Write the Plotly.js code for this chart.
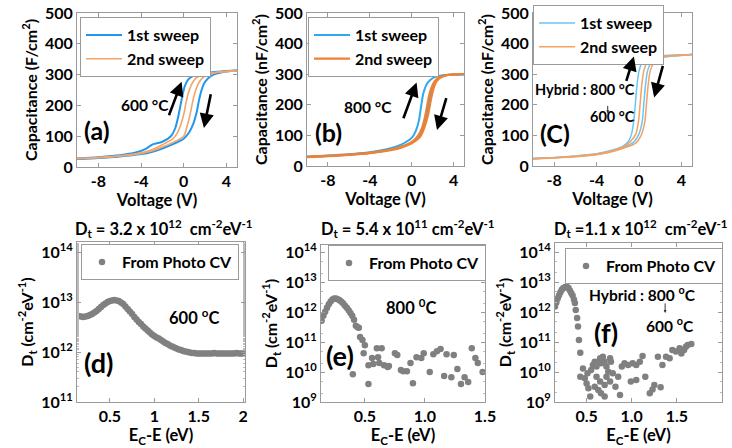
<!DOCTYPE html>
<html><head><meta charset="utf-8">
<script src="https://cdn.plot.ly/plotly-3.0.1.min.js"></script>
<style>html,body{margin:0;padding:0;background:#fff}#chart{width:732px;height:448px}</style>
</head><body><div id="chart"></div>
<script>
// ---------- DATA ----------
// (a) 600 C C-V
const aBlueUpV = [-10,-8,-6,-4.5,-3.5,-3,-2,-1.2,-0.8,-0.5,-0.3,-0.1,0.1,0.4,0.8,1.5,2.5,3.5,5];
const aBlueUpC = [28,32,38,47,60,72,82,100,125,165,200,235,262,283,294,302,307,310,313];
const aOrg1V = [-10,-8,-6,-4,-3,-2,-1,-0.6,-0.3,0,0.2,0.4,0.7,1.1,1.6,2.5,3.5,5];
const aOrg1C = [28,31,36,46,56,72,92,110,135,170,205,235,265,287,298,305,309,313];
const aOrg2V = [-10,-8,-6,-4,-3,-2,-1,0,0.3,0.6,0.8,1.0,1.3,1.7,2.2,3,4,5];
const aOrg2C = [27,30,35,44,52,65,80,100,130,170,205,235,265,287,298,306,310,313];
const aBlueDnV = [-10,-8,-6,-4,-3,-2,-1,0,0.5,0.9,1.2,1.4,1.6,1.9,2.3,2.8,3.5,5];
const aBlueDnC = [26,29,34,42,49,60,74,92,112,140,175,210,240,270,288,300,307,313];
// (b) 800 C C-V
const bBlueUpV = [-10,-8,-6,-4,-2,-1,0,0.4,0.7,0.9,1.1,1.4,1.8,2.3,3,4,5];
const bBlueUpC = [30,34,38,45,58,70,92,115,150,195,235,265,282,292,297,299,300];
const bBlueDnV = [-10,-8,-6,-4,-2,-1,0,0.7,1.1,1.4,1.6,1.8,2.1,2.5,3.1,4,5];
const bBlueDnC = [30,33,37,43,54,62,77,97,125,165,200,235,265,285,295,299,300];
const bOrg1V = [-10,-8,-6,-4,-2,-1,0,0.6,1.0,1.3,1.5,1.7,2.0,2.4,3,4,5];
const bOrg1C = [30,33,37,43,54,63,78,98,125,165,200,235,265,285,295,299,300];
const bOrg2V = [-10,-8,-6,-4,-2,-1,0,0.8,1.2,1.55,1.75,1.95,2.2,2.6,3.2,4,5];
const bOrg2C = [29,32,36,42,52,60,74,95,125,165,200,235,265,285,295,299,300];
// (c) hybrid C-V
const cBlueUpV = [-10,-8,-6,-4,-2.5,-1.5,-1,-0.7,-0.5,-0.35,-0.2,0,0.3,0.7,1.2,2,3,5];
const cBlueUpC = [25,28,33,40,52,65,80,105,145,200,260,310,340,352,357,360,362,364];
const cOrg1V = [-10,-8,-6,-4,-2.5,-1.5,-0.8,-0.3,-0.05,0.1,0.25,0.45,0.75,1.15,1.7,2.5,3.5,5];
const cOrg1C = [24,27,32,39,50,62,80,105,145,200,260,310,338,350,356,359,361,364];
const cBlueDnV = [-10,-8,-6,-4,-2.5,-1.5,-0.5,0,0.3,0.45,0.6,0.8,1.1,1.5,2,2.8,3.8,5];
const cBlueDnC = [24,27,31,38,48,60,78,105,145,200,260,310,336,349,355,359,361,364];
const cOrg2V = [-10,-8,-6,-4,-2.5,-1.5,-0.3,0.2,0.55,0.7,0.85,1.05,1.35,1.75,2.3,3,4,5];
const cOrg2C = [23,26,30,37,47,58,75,100,145,200,260,310,335,348,355,359,361,364];

// (d) Dt 600 C : energy (eV) and log10(Dt)
const dE = [0.150,0.175,0.200,0.225,0.250,0.275,0.300,0.325,0.350,0.375,0.400,0.425,0.450,0.475,0.500,0.525,0.550,0.575,0.600,0.625,0.650,0.675,0.700,0.725,0.750,0.775,0.800,0.825,0.850,0.875,0.900,0.925,0.950,0.975,1.000,1.025,1.050,1.075,1.100,1.125,1.150,1.175,1.200,1.225,1.250,1.275,1.300,1.325,1.350,1.375,1.400,1.425,1.450,1.475,1.500,1.525,1.550,1.575,1.600,1.625,1.650,1.675,1.700,1.725,1.750,1.775,1.800,1.825,1.850,1.875,1.900,1.925,1.950,1.975,2.000];
const dLog = [12.72,12.71,12.70,12.71,12.72,12.74,12.76,12.79,12.82,12.86,12.90,12.94,12.97,13.00,13.02,13.03,13.04,13.03,13.02,12.99,12.96,12.91,12.86,12.81,12.76,12.70,12.65,12.60,12.56,12.51,12.47,12.43,12.39,12.35,12.32,12.29,12.27,12.24,12.21,12.18,12.16,12.13,12.11,12.09,12.07,12.05,12.04,12.02,12.01,12.00,11.99,11.98,11.98,11.97,11.97,11.97,11.97,11.97,11.97,11.97,11.97,11.98,11.97,11.97,11.97,11.97,11.97,11.97,11.97,11.97,11.97,11.98,11.97,11.97,11.97];
// (e) Dt 800 C
const eE = [0.140,0.155,0.170,0.185,0.200,0.215,0.230,0.245,0.260,0.275,0.290,0.305,0.320,0.335,0.350,0.365,0.380,0.395,0.410,0.425,0.440,0.450,
  0.46,0.48,0.50,0.49,0.40,0.53,0.56,0.57,0.53,0.60,0.61,0.64,0.62,0.66,0.69,0.70,0.75,0.77,0.80,0.82,0.85,0.88,0.90,0.93,0.97,0.99,1.04,1.07,1.10,1.13,1.16,1.18,1.22,1.24,1.27,1.30,1.33,1.36,1.39,1.42,1.44,1.48];
const eLog = [11.72,11.88,12.02,12.15,12.27,12.36,12.43,12.46,12.46,12.44,12.40,12.35,12.29,12.22,12.15,12.07,11.98,11.88,11.75,11.55,11.50,11.48,
  11.17,11.07,10.90,10.63,9.93,10.23,10.47,10.27,9.60,10.80,10.50,10.80,10.30,10.23,10.17,10.20,10.63,10.57,10.07,10.03,10.03,10.30,9.63,10.50,10.47,10.63,10.00,10.60,10.70,10.77,9.87,10.60,9.83,10.57,10.10,9.60,9.83,9.67,10.80,10.47,10.30,10.00];
// (f) Dt hybrid
const fE = [0.150,0.165,0.180,0.195,0.210,0.225,0.240,0.255,0.270,0.285,0.300,0.315,0.330,0.345,0.360,0.370,0.380,0.395,0.405,0.415,0.430,
  0.46,0.43,0.48,0.50,0.52,0.54,0.51,0.55,0.57,0.59,0.61,0.63,0.65,0.66,0.68,0.70,0.61,0.65,0.59,0.63,0.66,0.70,0.72,0.74,0.76,0.77,0.72,0.70,0.76,0.89,0.85,0.87,0.92,0.96,1.01,1.05,1.09,1.12,0.99,1.05,1.15,1.20,1.23,1.25,1.29,1.32,1.34,1.38,1.42,1.45,1.49,1.53,1.55,1.58,1.62,1.66,1.60,0.79,0.82];
const fLog = [12.18,12.32,12.45,12.56,12.66,12.74,12.79,12.82,12.84,12.83,12.80,12.72,12.63,12.55,12.42,12.30,12.07,11.80,11.52,11.07,10.64,
  10.12,9.84,9.79,9.62,9.46,9.18,9.96,10.07,10.23,10.34,10.18,10.34,10.46,10.29,10.51,10.34,9.84,9.68,9.51,9.40,9.29,9.18,10.18,10.01,10.46,10.34,9.84,9.57,9.68,10.18,9.84,9.23,10.29,10.23,10.29,10.23,10.34,10.53,9.68,9.73,9.84,9.29,9.42,9.57,10.51,9.49,10.23,10.51,10.46,10.73,10.68,10.79,10.62,10.73,10.90,10.93,10.84,9.96,9.51];

const vTicks = [-8,-4,0,4];
const vTickText = ['-8','-4','0','4'];
const cTicks = [0,100,200,300,400,500];

// ---------- STYLE / LAYOUT ----------
const W = 732, H = 448;
const FONT = 'Lato, "Open Sans", "DejaVu Sans", sans-serif';
const BLUE_A = '#2196EE', ORG_A = '#F5A468';
const BLUE_B = '#2EA8F0', ORG_B = '#EF8232';
const BLUE_C = '#6CC6F3', ORG_C = '#F3A262';
const GRAY = '#808080';
const pow10 = a => a.map(v => Math.pow(10, v));
const fnt = (size, extra) => Object.assign({family:FONT, size, color:'#000', weight:'bold'}, extra||{});

function line(x, y, xa, ya, color, width, name, leg, show) {
  return {type:'scatter', mode:'lines', x, y, xaxis:xa, yaxis:ya, name,
    line:{color, width, shape:'spline', smoothing:0.7}, legend:leg, showlegend:show, legendgroup:leg+name, hoverinfo:'skip'};
}
function pts(x, y, xa, ya, leg) {
  return {type:'scatter', mode:'markers', x, y:pow10(y), xaxis:xa, yaxis:ya, name:'From Photo CV',
    marker:{color:GRAY, size:6.5}, legend:leg, showlegend:true, hoverinfo:'skip'};
}

const traces = [
  line(aBlueUpV,aBlueUpC,'x','y',BLUE_A,2,'1st sweep','legend',true),
  line(aBlueDnV,aBlueDnC,'x','y',BLUE_A,2,'1st sweep','legend',false),
  line(aOrg1V,aOrg1C,'x','y',ORG_A,1.6,'2nd sweep','legend',true),
  line(aOrg2V,aOrg2C,'x','y',ORG_A,1.6,'2nd sweep','legend',false),
  line(bBlueUpV,bBlueUpC,'x2','y2',BLUE_B,2,'1st sweep','legend2',true),
  line(bBlueDnV,bBlueDnC,'x2','y2',BLUE_B,2,'1st sweep','legend2',false),
  line(bOrg1V,bOrg1C,'x2','y2',ORG_B,2.2,'2nd sweep','legend2',true),
  line(bOrg2V,bOrg2C,'x2','y2',ORG_B,2.2,'2nd sweep','legend2',false),
  line(cBlueUpV,cBlueUpC,'x3','y3',BLUE_C,1.5,'1st sweep','legend3',true),
  line(cBlueDnV,cBlueDnC,'x3','y3',BLUE_C,1.5,'1st sweep','legend3',false),
  line(cOrg1V,cOrg1C,'x3','y3',ORG_C,1.5,'2nd sweep','legend3',true),
  line(cOrg2V,cOrg2C,'x3','y3',ORG_C,1.5,'2nd sweep','legend3',false),
  pts(dE,dLog,'x4','y4','legend4'),
  pts(eE,eLog,'x5','y5','legend5'),
  pts(fE,fLog,'x6','y6','legend6')
];

const dom = (a,b,n) => n==='x' ? [a/W, b/W] : [1-b/H, 1-a/H];
const base = {showline:true, linecolor:'#9a9a9a', linewidth:1, mirror:'ticks', ticks:'inside', ticklen:4,
  tickcolor:'#9a9a9a', showgrid:false, zeroline:false, tickfont:fnt(16), fixedrange:true};
const sup = n => '10<sup>'+n+'</sup>';

function xTop(d, anchor) {
  return Object.assign({}, base, {domain:d, anchor, range:[-10,5], tickvals:vTicks, ticktext:vTickText,
    title:{text:'Voltage (V)', standoff:2, font:fnt(16.5)}});
}
function yTop(d, anchor, t) {
  return Object.assign({}, base, {domain:d, anchor, range:[0,500], tickvals:cTicks,
    title:{text:t, standoff:3, font:fnt(16)}});
}
function xBot(d, anchor, r, tv, tt) {
  return Object.assign({}, base, {domain:d, anchor, range:r, tickvals:tv, ticktext:tt,
    title:{text:'E<sub>C</sub>-E (eV)', standoff:3, font:fnt(16.5)}});
}
function yBot(d, anchor, r, exps) {
  return Object.assign({}, base, {domain:d, anchor, type:'log', range:r, tickvals:pow10(exps), ticktext:exps.map(sup),
    minor:{ticks:'inside', ticklen:2, tickcolor:'#bbb'},
    title:{text:'D<sub>t</sub> (cm<sup>-2</sup>eV<sup>-1</sup>)', standoff:3, font:fnt(16)}});
}

const legBase = {xanchor:'left', yanchor:'top', bordercolor:'#9a9a9a', borderwidth:1, bgcolor:'#fff',
  font:fnt(16), tracegroupgap:0, itemwidth:36, itemclick:false, itemdoubleclick:false};
const leg = (px,py,extra) => Object.assign({}, legBase, {x:px/W, y:1-py/H}, extra||{});

function A(xref,yref,x,y,text,size){
  return {xref,yref,x,y,text,showarrow:false,xanchor:'center',yanchor:'middle',font:fnt(size)};
}
function arrow(xref,yref,x0,y0,x1,y1){
  return {xref,yref,axref:xref,ayref:yref,x:x1,y:y1,ax:x0,ay:y0,text:'',showarrow:true,
    arrowhead:2,arrowsize:1.1,arrowwidth:2.6,arrowcolor:'#000',standoff:0,startstandoff:0};
}
function small(xref,yref,x,y,len){
  return {xref,yref,x,y,ax:0,ay:-len,text:'',showarrow:true,arrowhead:2,arrowsize:0.6,arrowwidth:1,arrowcolor:'#333',standoff:0};
}
function P(px,py,text,size){
  return {xref:'paper',yref:'paper',x:px/W,y:1-py/H,xanchor:'center',yanchor:'middle',text,showarrow:false,font:fnt(size)};
}

const layout = {
  width:W, height:H, margin:{l:0,r:0,t:0,b:0}, paper_bgcolor:'#fff', plot_bgcolor:'#fff',
  font:fnt(16),
  xaxis: xTop(dom(77,237,'x'),'y'),  yaxis: yTop(dom(13,167,'y'),'x','Capacitance (F/cm<sup>2</sup>)'),
  xaxis2:xTop(dom(307,464,'x'),'y2'), yaxis2:yTop(dom(13,166,'y'),'x2','Capacitance (nF/cm<sup>2</sup>)'),
  xaxis3:xTop(dom(533,692,'x'),'y3'), yaxis3:yTop(dom(13,166,'y'),'x3','Capacitance (nF/cm<sup>2</sup>)'),
  xaxis4:xBot(dom(77,245,'x'),'y4',[0.13,2.02],[0.5,1,1.5,2],['0.5','1','1.5','2']),
  yaxis4:yBot(dom(242,402,'y'),'x4',[11,14.2],[11,12,13,14]),
  xaxis5:xBot(dom(321,485,'x'),'y5',[0.135,1.5],[0.5,1.0,1.5],['0.5','1.0','1.5']),
  yaxis5:yBot(dom(245,402,'y'),'x5',[9,14.25],[9,10,11,12,13,14]),
  xaxis6:xBot(dom(555,722,'x'),'y6',[0.15,2.0],[0.5,1.0,1.5,2.0],['0.5','1.0','1.5','2.0']),
  yaxis6:yBot(dom(243,402,'y'),'x6',[9,14.3],[9,10,11,12,13,14]),
  legend: leg(80,17), legend2: leg(308,17), legend3: leg(533,5),
  legend4: leg(81,244,{itemwidth:30}), legend5: leg(328,245,{itemwidth:30}), legend6: leg(565,248,{itemwidth:30}),
  annotations:[
    A('x','y',-3.6,202,'600 °C',15.5), A('x','y',-8.1,121,'(a)',25),
    arrow('x','y',-1.43,163,-0.19,277), arrow('x','y',2.57,241,1.9,127),
    A('x2','y2',-4.2,194,'800 °C',15.5), A('x2','y2',-7.9,112,'(b)',25),
    arrow('x2','y2',-0.84,151,0.47,273), arrow('x2','y2',3.35,227,2.42,118),
    A('x3','y3',-5.1,250,'Hybrid : 800 °C',14.5), small('x3','y3',-2.95,172,9),
    A('x3','y3',-2.5,161,'600 °C',14.5), A('x3','y3',-7.9,108,'(C)',25),
    arrow('x3','y3',-1.24,273,-0.48,358), arrow('x3','y3',2.29,332,1.43,224),
    A('x4','y4',1.45,12.7,'600 <sup>o</sup>C',16.5), A('x4','y4',0.37,11.8,'(d)',27),
    A('x5','y5',0.885,12.17,'800 <sup>0</sup>C',16.5), A('x5','y5',0.29,10.57,'(e)',27),
    A('x6','y6',1.12,12.63,'Hybrid : 800 <sup>o</sup>C',15.5), small('x6','y6',1.37,11.97,11),
    A('x6','y6',1.42,11.57,'600 <sup>o</sup>C',15.5), A('x6','y6',0.72,11.33,'(f)',27),
    P(163,228,'D<sub>t</sub> = 3.2 x 10<sup>12</sup>  cm<sup>-2</sup>eV<sup>-1</sup>',16.5),
    P(408,228,'D<sub>t</sub> = 5.4 x 10<sup>11</sup> cm<sup>-2</sup>eV<sup>-1</sup>',16.5),
    P(640,228,'D<sub>t</sub> =1.1 x 10<sup>12</sup>  cm<sup>-2</sup>eV<sup>-1</sup>',16.5)
  ]
};

Plotly.newPlot('chart', traces, layout, {staticPlot:true, displayModeBar:false});
</script></body></html>
